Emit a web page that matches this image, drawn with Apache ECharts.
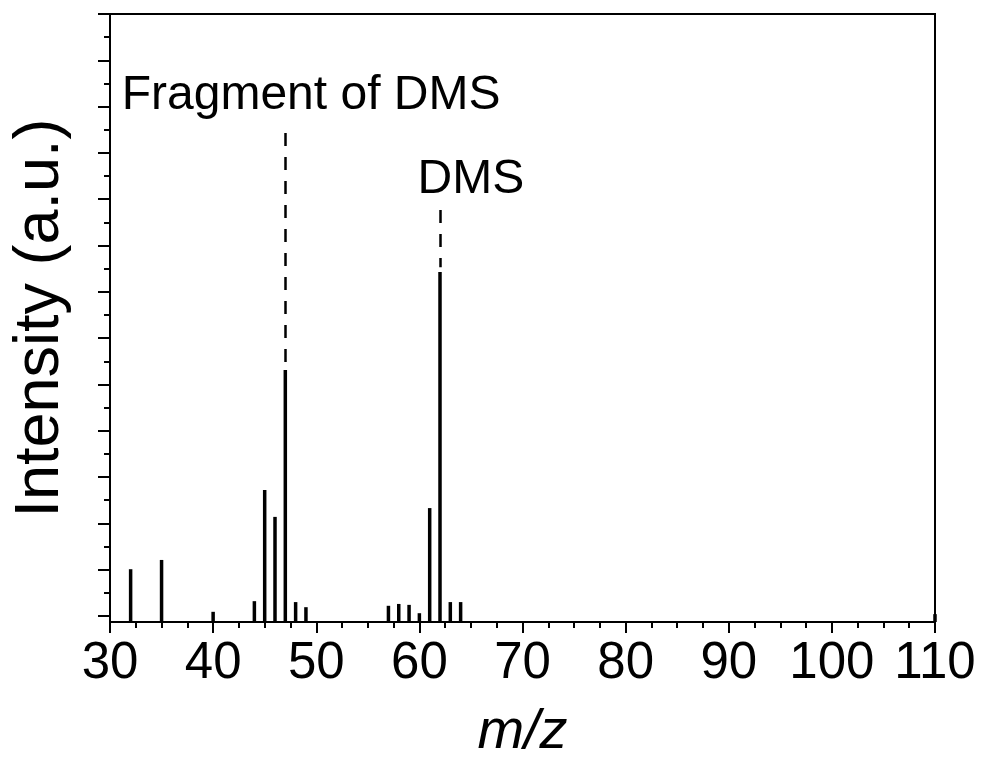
<!DOCTYPE html>
<html>
<head>
<meta charset="utf-8">
<script src="https://cdn.jsdelivr.net/npm/echarts@6/dist/echarts.min.js"></script>
<style>
  html, body { margin: 0; padding: 0; background: #fff; }
  #chart { width: 985px; height: 757px; }
</style>
</head>
<body>
<div id="chart"></div>
<script>
  // m/z positions and relative intensities
  var mzValues   = [32, 35, 40, 44, 45, 46, 47, 48, 49, 57, 58, 59, 60, 61, 62, 63, 64, 110];
  var intensity  = [11.4, 13.4, 2.2, 4.5, 28.5, 22.7, 54.4, 4.3, 3.2, 3.5, 3.9, 3.7, 1.9, 24.6, 75.6, 4.3, 4.3, 1.7];

  // dashed leader lines: [m/z, from, to]
  var leaderLines = [[47, 105.6, 55.6], [62, 89.0, 76.6]];
  // annotation labels: [m/z, y, text]
  var labels = [[49.5, 113.6, 'Fragment of DMS'], [65, 95.5, 'DMS']];

  var fontName = '"Liberation Sans", Arial, sans-serif';

  var chart = echarts.init(document.getElementById('chart'));

  var barData = mzValues.map(function(m, i){ return [m, intensity[i]]; });

  chart.setOption({
    animation: false,
    backgroundColor: '#fff',
    grid: [
      // plot box
      { left: 110, right: 50, top: 14, bottom: 135, outerBoundsMode: 'none', containLabel: false,
        show: true, borderColor: '#000', borderWidth: 2 },
      // tick scale, its zero sits a little above the x axis
      { left: 110, right: 50, top: 14, bottom: 141, outerBoundsMode: 'none', containLabel: false }
    ],
    xAxis: [
      {
        gridIndex: 0,
        type: 'value',
        min: 30,
        max: 110,
        interval: 10,
        name: 'm/z',
        nameLocation: 'middle',
        nameGap: 82,
        nameTextStyle: { fontSize: 56, fontStyle: 'italic', color: '#000', fontFamily: fontName },
        axisLine: { show: true, lineStyle: { color: '#000', width: 2 } },
        axisTick: { show: true, inside: false, length: 11, lineStyle: { color: '#000', width: 2 } },
        minorTick: { show: true, splitNumber: 4, length: 6, lineStyle: { color: '#000', width: 2 } },
        axisLabel: { fontSize: 51, color: '#000', margin: 16, fontFamily: fontName },
        splitLine: { show: false }
      },
      { gridIndex: 1, type: 'value', min: 30, max: 110, show: false }
    ],
    yAxis: [
      {
        gridIndex: 0,
        type: 'value',
        min: 0,
        max: 131.3,
        name: 'Intensity (a.u.)',
        nameLocation: 'middle',
        nameGap: 38,
        nameTextStyle: { fontSize: 63, color: '#000', fontFamily: fontName },
        axisLine: { show: true, lineStyle: { color: '#000', width: 2 } },
        axisTick: { show: false },
        axisLabel: { show: false },
        splitLine: { show: false }
      },
      {
        gridIndex: 1,
        type: 'value',
        min: 0,
        max: 130,
        interval: 10,
        axisLine: { show: false },
        axisTick: { show: true, inside: false, length: 12, lineStyle: { color: '#000', width: 2 } },
        minorTick: { show: true, splitNumber: 2, length: 6, lineStyle: { color: '#000', width: 2 } },
        axisLabel: { show: false },
        splitLine: { show: false }
      }
    ],
    series: [
      {
        type: 'bar',
        xAxisIndex: 0,
        yAxisIndex: 0,
        barWidth: 3.5,
        clip: false,
        itemStyle: { color: '#000' },
        data: barData,
        markLine: {
          silent: true,
          symbol: 'none',
          label: { show: false },
          lineStyle: { color: '#000', width: 2.5, type: [13, 11] },
          data: leaderLines.map(function(l){
            return [{ coord: [l[0], l[1]] }, { coord: [l[0], l[2]] }];
          })
        },
        markPoint: {
          silent: true,
          symbolSize: 0,
          label: {
            show: true,
            position: 'inside',
            color: '#000',
            fontSize: 48,
            fontFamily: fontName,
            formatter: function(p){ return p.name; }
          },
          data: labels.map(function(l){
            return { name: l[2], coord: [l[0], l[1]] };
          })
        }
      }
    ]
  });
</script>
</body>
</html>
